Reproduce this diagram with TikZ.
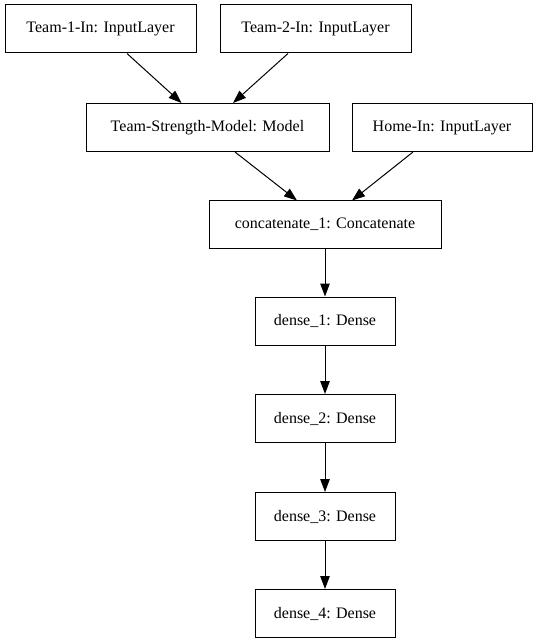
\documentclass[tikz,border=0pt]{standalone}
\usepackage{fontspec}
\setmainfont{Liberation Serif}
\usetikzlibrary{arrows.meta}

\tikzset{
  layer/.style={draw, line width=1pt, minimum height=48pt, inner sep=0pt,
    font=\fontsize{16}{18}\selectfont},
  link/.style={line width=1pt, -{Triangle[length=13pt,width=9.5pt]}}
}

\begin{document}
\begin{tikzpicture}[x=1pt,y=-1pt]
\useasboundingbox (0,0) rectangle (537,644);

\node[layer, minimum width=191pt] (team1) at (100.5,29) {Team-1-In: InputLayer};
\node[layer, minimum width=191pt] (team2) at (315.5,29) {Team-2-In: InputLayer};

\node[layer, minimum width=243pt] (strength) at (207.5,127.5) {Team-Strength-Model: Model};
\node[layer, minimum width=180pt] (home) at (442,127.5) {Home-In: InputLayer};

\node[layer, minimum width=232pt, minimum height=47pt] (concat) at (325,224.5) {concatenate\_1: Concatenate};

\node[layer, minimum width=140pt] (dense1) at (325,321) {dense\_1: Dense};
\node[layer, minimum width=140pt] (dense2) at (325,418.5) {dense\_2: Dense};
\node[layer, minimum width=140pt] (dense3) at (325,516.5) {dense\_3: Dense};
\node[layer, minimum width=140pt] (dense4) at (325,613.5) {dense\_4: Dense};

\draw[link] ([xshift=26.5pt]team1.south) -- ([xshift=-26pt]strength.north);
\draw[link] ([xshift=-27.5pt]team2.south) -- ([xshift=25.5pt]strength.north);

\draw[link] ([xshift=27.5pt]strength.south) -- ([xshift=-28pt]concat.north);
\draw[link] ([xshift=-29pt]home.south) -- ([xshift=27pt]concat.north);

\draw[link] (concat) -- (dense1);
\draw[link] (dense1) -- (dense2);
\draw[link] (dense2) -- (dense3);
\draw[link] (dense3) -- (dense4);
\end{tikzpicture}
\end{document}
